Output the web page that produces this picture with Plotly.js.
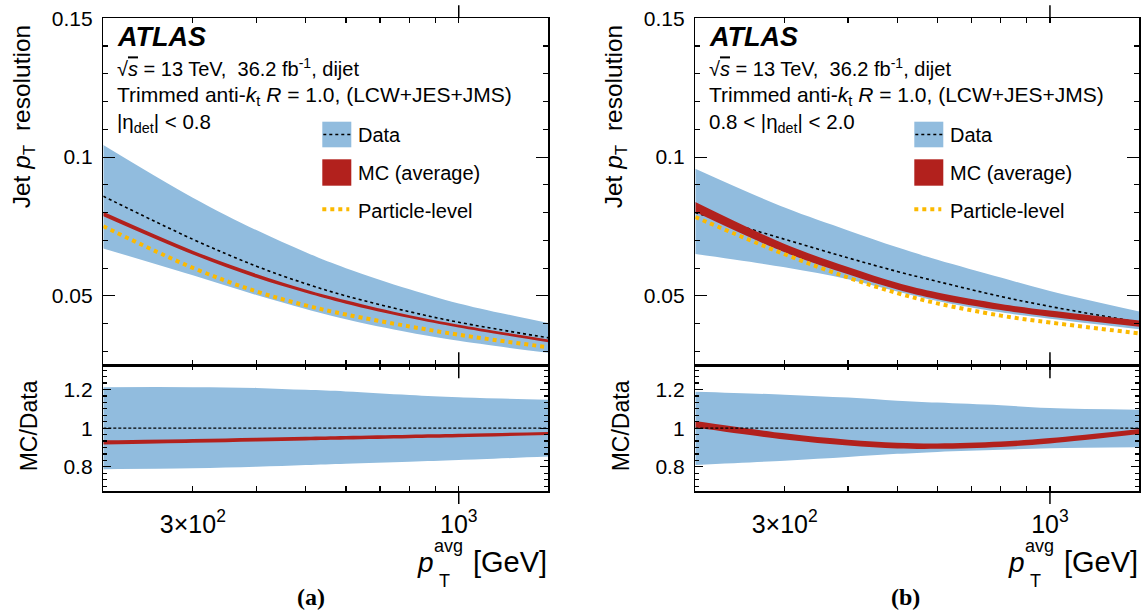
<!DOCTYPE html>
<html>
<head>
<meta charset="utf-8">
<script src="https://cdn.plot.ly/plotly-3.0.1.min.js"></script>
<style>html,body{margin:0;padding:0;background:#fff;}#chart{width:1146px;height:613px;}</style>
</head>
<body>
<div id="chart"></div>
<script>
// ---------- data ----------
const ptAvg = [200, 300, 400, 500, 600, 800, 1000, 1500];

// panel (a) |eta_det| < 0.8
const dataA   = [0.0859, 0.0704, 0.0607, 0.0544, 0.0500, 0.0443, 0.0405, 0.0349];
const dataUpA = [0.1044, 0.0854, 0.0737, 0.0657, 0.0600, 0.0524, 0.0473, 0.0402];
const dataLoA = [0.0671, 0.0574, 0.0503, 0.0453, 0.0416, 0.0368, 0.0338, 0.0295];
const mcUpA   = [0.0803, 0.0663, 0.0579, 0.0523, 0.0484, 0.0430, 0.0396, 0.0343];
const mcLoA   = [0.0787, 0.0649, 0.0565, 0.0511, 0.0472, 0.0420, 0.0386, 0.0333];
const partA   = [0.0751, 0.0601, 0.0516, 0.0466, 0.0433, 0.0390, 0.0360, 0.0315];
const ratioUpA   = [1.212, 1.212, 1.208, 1.198, 1.190, 1.172, 1.160, 1.147];
const ratioLoA   = [0.788, 0.792, 0.800, 0.809, 0.816, 0.826, 0.835, 0.853];
const mcRatioUpA = [0.937, 0.944, 0.951, 0.956, 0.960, 0.966, 0.971, 0.980];
const mcRatioLoA = [0.915, 0.924, 0.931, 0.936, 0.941, 0.948, 0.953, 0.964];

// panel (b) 0.8 < |eta_det| < 2.0
const dataB   = [0.0800, 0.0704, 0.0637, 0.0588, 0.0552, 0.0498, 0.0462, 0.0405];
const dataUpB = [0.0958, 0.0818, 0.0736, 0.0675, 0.0630, 0.0566, 0.0518, 0.0444];
const dataLoB = [0.0651, 0.0603, 0.0560, 0.0516, 0.0482, 0.0441, 0.0418, 0.0380];
const mcUpB   = [0.0838, 0.0687, 0.0604, 0.0547, 0.0512, 0.0471, 0.0447, 0.0411];
const mcLoB   = [0.0802, 0.0657, 0.0578, 0.0523, 0.0488, 0.0449, 0.0425, 0.0389];
const partB   = [0.0784, 0.0650, 0.0566, 0.0510, 0.0473, 0.0429, 0.0404, 0.0365];
const ratioUpB   = [1.188, 1.173, 1.158, 1.142, 1.132, 1.118, 1.104, 1.095];
const ratioLoB   = [0.810, 0.832, 0.851, 0.867, 0.877, 0.888, 0.896, 0.901];
const mcRatioUpB = [1.037, 0.973, 0.940, 0.925, 0.921, 0.931, 0.949, 0.996];
const mcRatioLoB = [1.003, 0.941, 0.910, 0.895, 0.893, 0.903, 0.921, 0.970];

const dataRatio = [1, 1, 1, 1, 1, 1, 1, 1];

// ticks
const xTickVals = [300, 1000];
const xTickText = ['3\u00d710<sup>2</sup>', '10<sup>3</sup>'];
const xMinorVals = [400, 500, 600, 700, 800, 900];
const xLongTick = 1000;
const yMainTickVals = [0.05, 0.1, 0.15];
const yMainTickText = ['0.05', '0.1', '0.15'];
const yRatioTickVals = [0.8, 1, 1.2];
const yRatioTickText = ['0.8', '1', '1.2'];

// ---------- styling / layout ----------
const W = 1146, H = 613;
const px = x => x / W;
const py = y => 1 - y / H;
const FONT = 'Liberation Sans, Arial, Helvetica, sans-serif';
const BLUE = '#91bcde', RED = '#b2211d', YEL = '#fbb900';

const panels = [
  {L: 103.3, R: 548.3, xm: 'x', ym: 'y', xr: 'x3', yr: 'y3',
   band: [dataLoA, dataUpA], mc: [mcLoA, mcUpA], data: dataA, part: partA,
   rband: [ratioLoA, ratioUpA], rmc: [mcRatioLoA, mcRatioUpA],
   eta: '|\u03b7<sub>det</sub>| &lt; 0.8', tag: '(a)', tagX: 311},
  {L: 695.3, R: 1139.3, xm: 'x2', ym: 'y2', xr: 'x4', yr: 'y4',
   band: [dataLoB, dataUpB], mc: [mcLoB, mcUpB], data: dataB, part: partB,
   rband: [ratioLoB, ratioUpB], rmc: [mcRatioLoB, mcRatioUpB],
   eta: '0.8 &lt; |\u03b7<sub>det</sub>| &lt; 2.0', tag: '(b)', tagX: 905}
];

const TOP = 18.3, MID = 365.3, BOT = 491;
const traces = [];
const shapes = [];
const annotations = [];

function band(x, lo, hi, color, xa, ya) {
  traces.push({x: x, y: lo, xaxis: xa, yaxis: ya, mode: 'lines', line: {width: 0, shape: 'spline', color: color},
               hoverinfo: 'skip', showlegend: false});
  traces.push({x: x, y: hi, xaxis: xa, yaxis: ya, mode: 'lines', line: {width: 0, shape: 'spline', color: color},
               fill: 'tonexty', fillcolor: color, hoverinfo: 'skip', showlegend: false});
}

panels.forEach(p => {
  // main panel
  band(ptAvg, p.band[0], p.band[1], BLUE, p.xm, p.ym);
  traces.push({x: ptAvg, y: p.data, xaxis: p.xm, yaxis: p.ym, mode: 'lines',
               line: {color: '#000', width: 1.6, dash: 'dot', shape: 'spline'}, showlegend: false});
  band(ptAvg, p.mc[0], p.mc[1], RED, p.xm, p.ym);
  traces.push({x: ptAvg, y: p.part, xaxis: p.xm, yaxis: p.ym, mode: 'lines',
               line: {color: YEL, width: 4, dash: 'dot', shape: 'spline'}, showlegend: false});
  // ratio panel
  band(ptAvg, p.rband[0], p.rband[1], BLUE, p.xr, p.yr);
  band(ptAvg, p.rmc[0], p.rmc[1], RED, p.xr, p.yr);
  traces.push({x: ptAvg, y: dataRatio, xaxis: p.xr, yaxis: p.yr, mode: 'lines',
               line: {color: '#000', width: 1.2, dash: '3px,2px'}, showlegend: false});

  // long 10^3 ticks (top and bottom of both subplots)
  [[p.xm, p.ym], [p.xr, p.yr]].forEach(([xa, ya]) => {
    shapes.push({type: 'line', xref: xa, yref: ya + ' domain', x0: xLongTick, x1: xLongTick,
                 ysizemode: 'pixel', yanchor: 0, y0: 0, y1: -13, line: {color: '#000', width: 1.5}});
    shapes.push({type: 'line', xref: xa, yref: ya + ' domain', x0: xLongTick, x1: xLongTick,
                 ysizemode: 'pixel', yanchor: 1, y0: 0, y1: 13, line: {color: '#000', width: 1.5}});
  });

  const L = p.L, R = p.R;
  const txt = (text, x, y, size, extra) => annotations.push(Object.assign({
    text: text, x: px(x), y: py(y), xref: 'paper', yref: 'paper', showarrow: false,
    xanchor: 'left', yanchor: 'middle', font: {family: FONT, size: size, color: '#000'}}, extra || {}));

  txt('<b><i>ATLAS</i></b>', L + 12, 37, 27);
  txt('\u221a<span style="text-decoration:overline"><i>s</i></span> = 13 TeV,\u00a0\u00a036.2 fb<sup>-1</sup>, dijet', L + 12, 67, 20);
  txt('Trimmed anti-<i>k</i><sub>t</sub> <i>R</i> = 1.0, (LCW+JES+JMS)', L + 12, 96, 21);
  txt(p.eta, L + 12, 123, 20.5);

  // legend
  shapes.push({type: 'rect', xref: 'paper', yref: 'paper', x0: px(L + 219), x1: px(L + 248),
               y0: py(147.3), y1: py(121.7), fillcolor: BLUE, line: {width: 0}});
  shapes.push({type: 'line', xref: 'paper', yref: 'paper', x0: px(L + 220), x1: px(L + 247),
               y0: py(134.5), y1: py(134.5), line: {color: '#000', width: 1.6, dash: 'dot'}});
  shapes.push({type: 'rect', xref: 'paper', yref: 'paper', x0: px(L + 219), x1: px(L + 248),
               y0: py(185.7), y1: py(159.3), fillcolor: RED, line: {width: 0}});
  shapes.push({type: 'line', xref: 'paper', yref: 'paper', x0: px(L + 219), x1: px(L + 246),
               y0: py(209.3), y1: py(209.3), line: {color: YEL, width: 4, dash: 'dot'}});
  txt('Data', L + 253, 135, 20);
  txt('MC (average)', L + 253, 173, 20);
  txt('Particle-level', L + 253, 211, 20);

  // axis titles
  txt('Jet <i>p</i><sub>T</sub>  resolution', L - 80, 117, 24.5, {xanchor: 'center', textangle: -90});
  txt('MC/Data', L - 74, 426, 23, {xanchor: 'center', textangle: -90});
  txt('[GeV]', R + 1, 562, 29, {xanchor: 'right'});
  txt('<i>p</i>', R - 123, 562, 28, {xanchor: 'center'});
  txt('avg', R - 100, 546, 18, {xanchor: 'center'});
  txt('T', R - 104, 581, 18, {xanchor: 'center'});
  txt('<b>' + p.tag + '</b>', p.tagX, 597, 24,
      {xanchor: 'center', font: {family: 'Liberation Serif, Times New Roman, serif', size: 24, color: '#000'}});
});

const xRange = [Math.log10(ptAvg[0]), Math.log10(ptAvg[ptAvg.length - 1])];
function xAxis(L, R, anchor, labels) {
  return {domain: [px(L), px(R)], anchor: anchor, type: 'log', range: xRange,
          tickmode: 'array', tickvals: xTickVals, ticktext: xTickText, showticklabels: labels,
          ticks: 'inside', ticklen: 5, tickwidth: 1.2, tickcolor: '#000',
          minor: {tickmode: 'array', tickvals: xMinorVals, ticks: 'inside', ticklen: 5, tickwidth: 1.2, tickcolor: '#000'},
          showline: true, linecolor: '#000', linewidth: 1.5, mirror: 'ticks',
          showgrid: false, zeroline: false, ticklabelstandoff: 10,
          tickfont: {family: FONT, size: 25, color: '#000'}};
}
function yMain(anchor) {
  return {domain: [py(MID), py(TOP)], anchor: anchor, range: [0.025, 0.15],
          tickmode: 'array', tickvals: yMainTickVals, ticktext: yMainTickText,
          ticks: 'inside', ticklen: 12, tickwidth: 1.2, tickcolor: '#000',
          minor: {dtick: 0.01, tick0: 0, ticklen: 5, ticks: 'inside', tickcolor: '#000', tickwidth: 1.2},
          showline: true, linecolor: '#000', linewidth: 1.5, mirror: 'ticks',
          showgrid: false, zeroline: false, ticklabelstandoff: 5,
          tickfont: {family: FONT, size: 21, color: '#000'}};
}
function yRatio(anchor) {
  return {domain: [py(BOT), py(MID)], anchor: anchor, range: [0.675, 1.325],
          tickmode: 'array', tickvals: yRatioTickVals, ticktext: yRatioTickText,
          ticks: 'inside', ticklen: 8, tickwidth: 1.2, tickcolor: '#000',
          minor: {dtick: 0.2 / 6, tick0: 0.8, ticklen: 4, ticks: 'inside', tickcolor: '#000', tickwidth: 1.2},
          showline: true, linecolor: '#000', linewidth: 1.5, mirror: 'ticks',
          showgrid: false, zeroline: false, ticklabelstandoff: 5,
          tickfont: {family: FONT, size: 21, color: '#000'}};
}

const layout = {
  width: W, height: H, margin: {l: 0, r: 0, t: 0, b: 0},
  paper_bgcolor: '#fff', plot_bgcolor: 'rgba(0,0,0,0)', showlegend: false,
  font: {family: FONT, color: '#000'},
  xaxis: xAxis(panels[0].L, panels[0].R, 'y', false),
  yaxis: yMain('x'),
  xaxis2: xAxis(panels[1].L, panels[1].R, 'y2', false),
  yaxis2: yMain('x2'),
  xaxis3: xAxis(panels[0].L, panels[0].R, 'y3', true),
  yaxis3: yRatio('x3'),
  xaxis4: xAxis(panels[1].L, panels[1].R, 'y4', true),
  yaxis4: yRatio('x4'),
  shapes: shapes, annotations: annotations
};

Plotly.newPlot('chart', traces, layout, {staticPlot: true, displayModeBar: false});
</script>
</body>
</html>
